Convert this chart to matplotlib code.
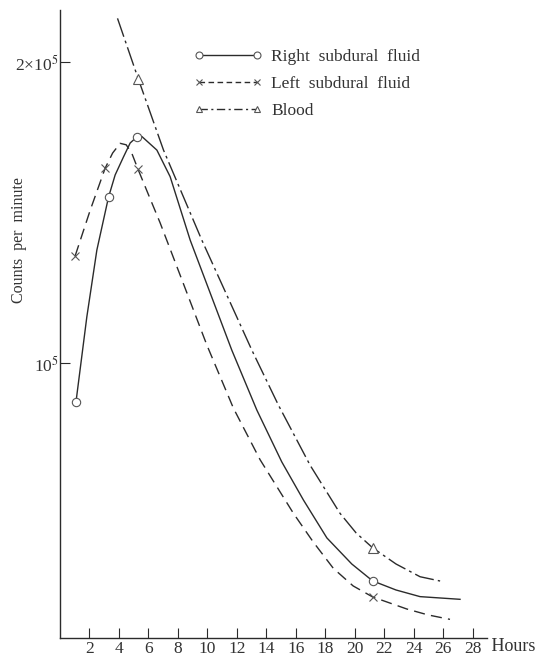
import matplotlib.pyplot as plt
import numpy as np

plt.rcParams['font.family'] = ['Liberation Serif', 'DejaVu Serif']
plt.rcParams['mathtext.fontset'] = 'stix'

ink = '#2b2b2b'
grey = '#555555'
txt = '#333333'

# observed samples (hours, counts per minute)
right_obs_h = [1.08, 3.29, 5.21, 21.2]
right_obs_c = [91400, 146600, 168400, 60600]
left_obs_h = [1.03, 3.06, 5.28, 21.2]
left_obs_c = [128100, 156700, 156500, 58400]
blood_obs_h = [5.32, 21.2]
blood_obs_c = [192300, 65400]

# hand-fitted curves through the samples
right_h = [1.08, 1.82, 2.50, 3.29, 3.74, 4.31, 4.76, 5.21, 5.55, 6.57, 7.47,
           8.83, 11.65, 13.35, 15.04, 16.51, 18.1, 19.79, 21.2, 22.79, 24.42, 27.13]
right_c = [91400, 111300, 129800, 146600, 154300, 160900, 166100, 168400, 168600,
           163400, 153700, 132800, 103100, 89800, 79700, 73000, 66900, 63000,
           60600, 59340, 58440, 58080]
left_h = [1.03, 2.05, 3.06, 3.57, 4.08, 4.49, 4.87, 5.28, 5.98, 6.79, 8.14, 9.96,
          11.76, 13.57, 15.83, 17.17, 18.54, 19.88, 21.2, 23.52, 24.96, 26.45]
left_c = [128100, 142300, 156700, 162300, 165960, 165400, 162200, 156500, 147700,
          138200, 122600, 104300, 90200, 80100, 70800, 66290, 62370, 59900, 58400,
          56800, 56030, 55460]
blood_h = [3.90, 5.32, 7.02, 9.62, 13.01, 14.81, 16.96, 18.99, 20.08, 21.2,
           22.79, 24.42, 25.78]
blood_c = [221300, 192300, 163400, 132800, 103100, 90850, 79100, 70800, 67680,
           65400, 63000, 61180, 60580]

hour_ticks = list(range(2, 30, 2))

fig = plt.figure(figsize=(5.39, 6.60), dpi=100)
ax = fig.add_axes([60 / 539, 22 / 660, 426.7 / 539, 628 / 660])

ax.set_yscale('log')
ax.set_xlim(0, 28.94)
ax.set_ylim(53130, 225600)

lw = 1.0
ax.plot(right_h, right_c, color=ink, lw=lw, ls='-')
ax.plot(left_h, left_c, color=ink, lw=lw, ls=(0, (8, 4.5)))
ax.plot(blood_h, blood_c, color=ink, lw=lw, ls=(0, (14, 3, 2, 3)))

mk = dict(mfc='white', mec=grey, mew=0.8, ls='none', zorder=3)
ax.plot(right_obs_h, right_obs_c, marker='o', ms=6, **mk)
ax.plot(left_obs_h, left_obs_c, marker='x', ms=6, **mk)
ax.plot(blood_obs_h, blood_obs_c, marker='^', ms=7, **mk)

# legend rows
h1, = ax.plot([], [], color=ink, lw=lw, ls='-', marker='o', ms=5,
              mfc='white', mec=grey, mew=0.8)
h2, = ax.plot([], [], color=ink, lw=lw, ls=(0, (4, 2.5)), marker='x', ms=5,
              mfc='white', mec=grey, mew=0.8)
h3, = ax.plot([], [], color=ink, lw=lw, ls=(0, (6, 2.5, 1.5, 2.5)), marker='^', ms=5,
              mfc='white', mec=grey, mew=0.8)
leg = ax.legend([h1, h2, h3],
                ['Right  subdural  fluid', 'Left  subdural  fluid', 'Blood'],
                loc='upper left', bbox_to_anchor=(194 / 539, 1 - 49 / 660),
                bbox_transform=fig.transFigure, frameon=False, numpoints=2,
                handlelength=3.9, handletextpad=0.55, labelspacing=0.62,
                fontsize=12.5, borderaxespad=0, borderpad=0)
for t in leg.get_texts():
    t.set_color(txt)

for side in ('top', 'right'):
    ax.spines[side].set_visible(False)
for side in ('left', 'bottom'):
    ax.spines[side].set_color(ink)
    ax.spines[side].set_linewidth(1.0)

ax.set_xticks(hour_ticks)
ax.set_xticklabels([str(h) for h in hour_ticks])
ax.yaxis.set_minor_locator(plt.NullLocator())
ax.set_yticks([1e5, 2e5])
ax.set_yticklabels(['10$^5$', '2×10$^5$'])
ax.tick_params(axis='both', direction='in', length=7, width=0.8, color=ink,
               labelsize=12.5, labelcolor=txt)
ax.tick_params(axis='x', pad=2)
ax.tick_params(axis='y', pad=1)

ax.text(1.0, 0.0, ' Hours', transform=ax.transAxes, ha='left', va='top',
        fontsize=13, color=txt)
fig.text(19 / 539, 1 - 240 / 660, 'Counts  per  minute', rotation=90,
         ha='center', va='center', fontsize=11.5, color=txt)

fig.savefig('out.png', dpi=100)
